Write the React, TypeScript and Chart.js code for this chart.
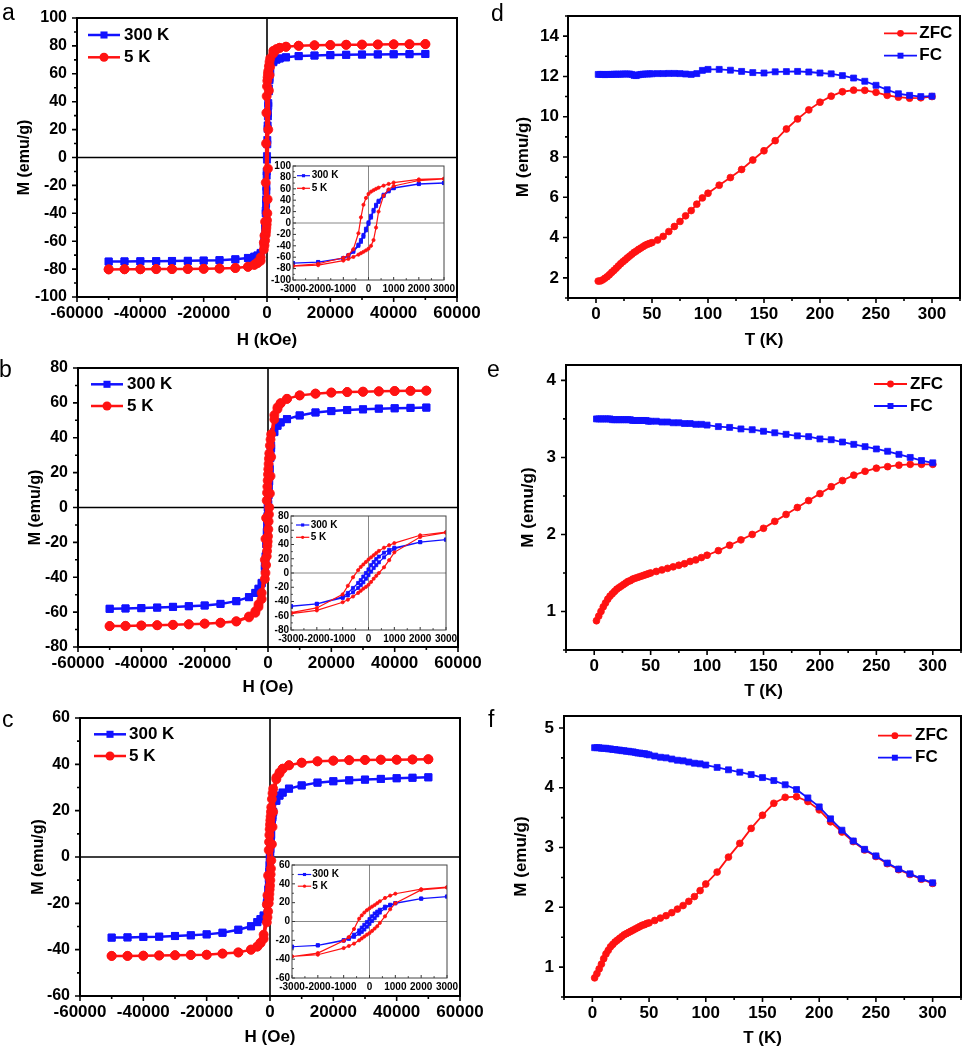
import React, { useEffect, useRef } from 'react';
import { Chart, registerables } from 'chart.js';
Chart.register(...registerables);

// ---------------- DATA ----------------
// Field sweep (Oe): descending branch and ascending branch
const H_DESC = [50000, 45000, 40000, 35000, 30000, 25000, 20000, 15000, 10000, 6000, 4000, 3000, 2000, 1000, 800, 600, 400, 300, 200, 100, 0, -100, -200, -300, -400, -600, -800, -1000, -2000, -3000, -4000, -6000, -10000, -15000, -20000, -25000, -30000, -35000, -40000, -45000, -50000];
const H_ASC = [-50000, -45000, -40000, -35000, -30000, -25000, -20000, -15000, -10000, -6000, -4000, -3000, -2000, -1000, -800, -600, -400, -300, -200, -100, 0, 100, 200, 300, 400, 600, 800, 1000, 2000, 3000, 4000, 6000, 10000, 15000, 20000, 25000, 30000, 35000, 40000, 45000, 50000];

// Panel a
const A_300K_DESC = [74.2, 74.1, 74.0, 73.9, 73.8, 73.6, 73.4, 73.1, 72.7, 71.8, 71.0, 70.3, 68.8, 61.5, 57.0, 49.5, 39.0, 32.0, 23.0, 12.5, 1.0, -10.0, -21.0, -30.0, -38.0, -48.5, -56.5, -61.5, -68.4, -70.2, -71.1, -72.0, -73.0, -73.6, -73.9, -74.1, -74.2, -74.3, -74.4, -74.5, -74.6];
const A_300K_ASC = [-74.6, -74.5, -74.4, -74.3, -74.2, -74.1, -73.9, -73.6, -73.0, -72.1, -71.2, -70.4, -68.8, -62.0, -57.8, -50.5, -40.0, -33.0, -24.0, -13.0, -1.5, 9.5, 20.5, 29.5, 37.0, 47.5, 55.5, 61.0, 68.3, 70.1, 71.0, 71.8, 72.7, 73.1, 73.4, 73.6, 73.8, 73.9, 74.0, 74.1, 74.2];
const A_5K_DESC = [81.3, 81.2, 81.1, 81.0, 80.9, 80.8, 80.6, 80.4, 80.1, 79.4, 78.6, 77.8, 76.5, 71.0, 68.5, 65.5, 62.0, 60.0, 57.5, 55.0, 51.0, 44.0, 32.0, 10.0, -18.0, -46.0, -56.0, -61.0, -71.5, -75.0, -76.8, -78.3, -79.2, -79.6, -79.8, -79.9, -80.0, -80.0, -80.1, -80.1, -80.2];
const A_5K_ASC = [-80.2, -80.1, -80.1, -80.0, -80.0, -79.9, -79.8, -79.6, -79.2, -78.4, -77.0, -75.8, -74.0, -66.0, -63.0, -59.5, -55.5, -53.0, -50.5, -48.0, -45.0, -40.0, -30.0, -8.0, 20.0, 48.0, 59.0, 65.0, 74.5, 77.3, 78.6, 79.4, 80.1, 80.4, 80.6, 80.8, 80.9, 81.0, 81.1, 81.2, 81.3];

// Panel b
const B_300K_DESC = [57.3, 57.1, 56.9, 56.7, 56.3, 55.9, 55.3, 54.5, 52.8, 50.7, 48.8, 47.0, 43.5, 35.5, 32.5, 28.5, 23.0, 19.5, 15.5, 11.0, 5.0, 0.0, -5.0, -10.0, -14.0, -21.0, -28.0, -33.5, -43.2, -46.5, -49.0, -51.4, -53.7, -55.3, -56.2, -56.6, -57.0, -57.4, -57.7, -57.9, -58.1];
const B_300K_ASC = [-58.1, -57.9, -57.7, -57.4, -57.0, -56.6, -56.2, -55.3, -53.7, -51.4, -49.0, -46.8, -43.5, -35.0, -31.5, -27.0, -21.0, -17.0, -13.0, -8.0, -3.0, 2.0, 7.0, 11.0, 15.0, 22.0, 28.5, 34.0, 43.2, 46.8, 48.8, 50.7, 52.8, 54.5, 55.3, 55.9, 56.3, 56.7, 56.9, 57.1, 57.3];
const B_5K_DESC = [67.0, 66.9, 66.8, 66.6, 66.4, 66.2, 65.9, 65.3, 64.3, 62.3, 59.8, 57.5, 53.0, 42.0, 39.0, 35.5, 31.0, 28.0, 25.0, 22.0, 19.0, 15.5, 12.0, 8.5, 4.0, -6.0, -18.0, -30.0, -49.0, -55.5, -59.5, -62.5, -65.2, -66.1, -66.6, -67.0, -67.3, -67.5, -67.7, -67.9, -68.0];
const B_5K_ASC = [-68.0, -67.9, -67.7, -67.5, -67.3, -67.0, -66.6, -66.1, -65.4, -63.0, -60.4, -57.0, -52.5, -41.0, -37.5, -33.0, -28.0, -25.0, -22.0, -19.5, -16.5, -12.5, -8.0, -4.0, 0.0, 8.0, 18.0, 29.0, 50.5, 56.5, 59.8, 62.3, 64.3, 65.3, 65.9, 66.2, 66.4, 66.6, 66.8, 66.9, 67.0];

// Panel c
const C_300K_DESC = [34.4, 34.2, 34.0, 33.7, 33.4, 33.1, 32.7, 32.1, 30.9, 29.5, 27.8, 26.5, 24.4, 19.6, 17.8, 15.8, 12.5, 10.5, 8.5, 5.5, 2.5, -0.5, -3.5, -6.5, -9.5, -14.0, -17.5, -19.8, -25.2, -26.8, -28.1, -29.9, -31.4, -32.7, -33.4, -33.8, -34.1, -34.4, -34.5, -34.7, -34.8];
const C_300K_ASC = [-34.8, -34.7, -34.5, -34.4, -34.1, -33.8, -33.4, -32.7, -31.4, -29.9, -28.1, -26.8, -25.4, -20.3, -18.5, -16.3, -13.0, -11.0, -8.5, -5.5, -2.5, 0.5, 3.5, 6.5, 9.5, 14.0, 17.0, 19.3, 24.2, 26.5, 27.8, 29.5, 30.9, 32.1, 32.7, 33.1, 33.4, 33.7, 34.0, 34.2, 34.4];
const C_5K_DESC = [42.2, 42.1, 42.0, 42.0, 41.9, 41.8, 41.6, 41.3, 40.7, 39.6, 38.1, 36.5, 34.3, 29.5, 27.5, 25.0, 21.5, 19.5, 17.5, 15.8, 14.0, 12.0, 9.5, 6.5, 3.0, -8.0, -16.5, -20.5, -33.5, -37.2, -38.7, -40.0, -41.2, -41.7, -42.2, -42.3, -42.4, -42.5, -42.6, -42.7, -42.7];
const C_5K_ASC = [-42.7, -42.7, -42.6, -42.5, -42.4, -42.3, -42.2, -41.7, -41.2, -40.0, -38.6, -37.0, -35.3, -28.2, -26.0, -23.5, -20.0, -18.0, -16.0, -14.0, -12.3, -10.0, -7.5, -5.0, -1.5, 5.5, 13.0, 19.5, 33.5, 36.0, 38.1, 39.6, 40.7, 41.3, 41.6, 41.8, 41.9, 42.0, 42.0, 42.1, 42.2];

// Temperatures (K) for ZFC / FC
const T_K = [2, 4, 6, 8, 10, 12, 14, 16, 18, 20, 22, 24, 26, 28, 30, 32, 34, 36, 38, 40, 42, 44, 46, 48, 50, 55, 60, 65, 70, 75, 80, 85, 90, 95, 100, 110, 120, 130, 140, 150, 160, 170, 180, 190, 200, 210, 220, 230, 240, 250, 260, 270, 280, 290, 300];

const D_ZFC = [1.84, 1.85, 1.90, 1.98, 2.06, 2.16, 2.27, 2.37, 2.48, 2.59, 2.70, 2.80, 2.89, 2.99, 3.08, 3.17, 3.26, 3.33, 3.41, 3.48, 3.55, 3.62, 3.67, 3.71, 3.75, 3.88, 4.06, 4.30, 4.55, 4.80, 5.08, 5.34, 5.66, 5.97, 6.20, 6.60, 6.98, 7.38, 7.85, 8.31, 8.81, 9.39, 9.89, 10.34, 10.72, 11.02, 11.24, 11.32, 11.31, 11.21, 11.06, 10.97, 10.92, 10.94, 11.00];
const D_FC = [12.10, 12.10, 12.10, 12.09, 12.10, 12.10, 12.10, 12.11, 12.11, 12.11, 12.11, 12.12, 12.12, 12.12, 12.12, 12.10, 12.05, 12.04, 12.08, 12.10, 12.11, 12.12, 12.12, 12.13, 12.13, 12.14, 12.14, 12.15, 12.15, 12.14, 12.12, 12.10, 12.14, 12.30, 12.35, 12.35, 12.31, 12.25, 12.19, 12.17, 12.23, 12.24, 12.25, 12.22, 12.17, 12.13, 12.04, 11.92, 11.76, 11.56, 11.34, 11.14, 11.06, 11.00, 11.02];

const E_ZFC = [0.88, 0.94, 1.00, 1.06, 1.11, 1.16, 1.20, 1.23, 1.26, 1.29, 1.31, 1.33, 1.35, 1.37, 1.39, 1.40, 1.42, 1.43, 1.44, 1.45, 1.46, 1.47, 1.48, 1.49, 1.50, 1.52, 1.54, 1.56, 1.58, 1.60, 1.62, 1.65, 1.67, 1.70, 1.73, 1.79, 1.86, 1.93, 2.00, 2.08, 2.17, 2.26, 2.35, 2.44, 2.53, 2.62, 2.70, 2.77, 2.82, 2.86, 2.88, 2.90, 2.91, 2.91, 2.91];
const E_FC = [3.50, 3.50, 3.50, 3.50, 3.50, 3.50, 3.50, 3.49, 3.49, 3.49, 3.49, 3.49, 3.49, 3.49, 3.49, 3.49, 3.48, 3.48, 3.48, 3.48, 3.48, 3.48, 3.48, 3.47, 3.47, 3.47, 3.46, 3.46, 3.45, 3.45, 3.44, 3.44, 3.43, 3.43, 3.42, 3.40, 3.39, 3.37, 3.36, 3.34, 3.32, 3.30, 3.28, 3.27, 3.24, 3.23, 3.20, 3.17, 3.14, 3.11, 3.08, 3.04, 3.00, 2.96, 2.93];

const F_ZFC = [0.82, 0.89, 0.97, 1.05, 1.14, 1.22, 1.28, 1.34, 1.38, 1.42, 1.45, 1.48, 1.51, 1.54, 1.56, 1.58, 1.60, 1.62, 1.64, 1.66, 1.68, 1.70, 1.71, 1.73, 1.74, 1.78, 1.82, 1.86, 1.91, 1.97, 2.03, 2.10, 2.18, 2.28, 2.39, 2.59, 2.84, 3.07, 3.32, 3.54, 3.74, 3.84, 3.85, 3.77, 3.63, 3.43, 3.26, 3.10, 2.96, 2.85, 2.73, 2.63, 2.55, 2.47, 2.40];
const F_FC = [4.67, 4.67, 4.67, 4.66, 4.66, 4.66, 4.65, 4.65, 4.64, 4.64, 4.63, 4.63, 4.62, 4.62, 4.61, 4.61, 4.60, 4.60, 4.59, 4.58, 4.58, 4.57, 4.57, 4.56, 4.55, 4.53, 4.51, 4.50, 4.48, 4.46, 4.45, 4.43, 4.41, 4.40, 4.38, 4.34, 4.30, 4.26, 4.22, 4.17, 4.12, 4.05, 3.97, 3.83, 3.68, 3.48, 3.29, 3.11, 2.97, 2.86, 2.74, 2.64, 2.56, 2.48, 2.41];

// Tick values
const H_TICKS = [-60000, -40000, -20000, 0, 20000, 40000, 60000];
const A_M_TICKS = [-100, -80, -60, -40, -20, 0, 20, 40, 60, 80, 100];
const B_M_TICKS = [-80, -60, -40, -20, 0, 20, 40, 60, 80];
const C_M_TICKS = [-60, -40, -20, 0, 20, 40, 60];
const INSET_H_TICKS = [-3000, -2000, -1000, 0, 1000, 2000, 3000];
const T_TICKS = [0, 50, 100, 150, 200, 250, 300];
const D_M_TICKS = [2, 4, 6, 8, 10, 12, 14];
const E_M_TICKS = [1, 2, 3, 4];
const F_M_TICKS = [1, 2, 3, 4, 5];

// Labels
const LBL_300K = '300 K';
const LBL_5K = '5 K';
const LBL_ZFC = 'ZFC';
const LBL_FC = 'FC';

// ---------------- STYLE ----------------
const FONT = '"Liberation Sans", Arial, Helvetica, sans-serif';
const BLUE = '#1212ff';
const RED = '#ff1212';

type Item = { label: string; color: string; style: 'rect' | 'circle'; radius: number; lw: number };
type Axis = { min: number; max: number; ticks: number[]; minor: number; font: number; pad: number; title?: string; titleFont?: number; titleCenter?: number };
type Spec = {
  plot: [number, number, number, number];
  margin: [number, number, number, number];
  x: Axis; y: Axis;
  datasets: any[];
  legend: { dx: number; dy: number; gap: number; len: number; textDx: number; font: number; items: Item[] };
  zero: { color: string; width: number } | null;
  frame: { color: string; width: number };
  tick: { major: number; minor: number; width: number; dir: 'out' | 'in'; color: string };
  bg?: string;
};

function loopPoints(hd: number[], md: number[], ha: number[], ma: number[]) {
  return hd.map((h, i) => ({ x: h, y: md[i] })).concat(ha.map((h, i) => ({ x: h, y: ma[i] })));
}
function tPoints(t: number[], m: number[]) {
  return t.map((v, i) => ({ x: v, y: m[i] }));
}
function ds(label: string, data: any[], color: string, style: 'rect' | 'circle', r: number, lw: number) {
  return {
    label, data, borderColor: color, backgroundColor: color, pointBackgroundColor: color,
    pointBorderColor: color, pointStyle: style, pointRadius: r, pointBorderWidth: 0.8,
    borderWidth: lw, showLine: true, tension: 0, fill: false,
  };
}

function drawMarker(ctx: CanvasRenderingContext2D, style: string, x: number, y: number, r: number) {
  ctx.beginPath();
  if (style === 'rect') {
    const s = r * Math.SQRT1_2;
    ctx.rect(x - s, y - s, 2 * s, 2 * s);
  } else {
    ctx.arc(x, y, r, 0, Math.PI * 2);
  }
  ctx.fill();
}

function decor(s: Spec) {
  const near = (arr: number[], v: number) => arr.some((t) => Math.abs(t - v) < 1e-9);
  return {
    id: 'decor',
    beforeDraw(chart: any) {
      if (!s.bg) return;
      const { ctx, chartArea: a } = chart;
      ctx.save();
      ctx.fillStyle = s.bg;
      ctx.fillRect(a.left, a.top, a.right - a.left, a.bottom - a.top);
      ctx.restore();
    },
    beforeDatasetsDraw(chart: any) {
      if (!s.zero) return;
      const { ctx, chartArea: a, scales } = chart;
      const x0 = scales.x.getPixelForValue(0);
      const y0 = scales.y.getPixelForValue(0);
      ctx.save();
      ctx.strokeStyle = s.zero.color;
      ctx.lineWidth = s.zero.width;
      ctx.beginPath();
      ctx.moveTo(x0, a.top); ctx.lineTo(x0, a.bottom);
      ctx.moveTo(a.left, y0); ctx.lineTo(a.right, y0);
      ctx.stroke();
      ctx.restore();
    },
    afterDatasetsDraw(chart: any) {
      const { ctx, chartArea: a, scales } = chart;
      const xs = scales.x, ys = scales.y;
      const dir = s.tick.dir === 'out' ? 1 : -1;
      ctx.save();
      ctx.strokeStyle = s.tick.color;
      ctx.lineWidth = s.tick.width;
      ctx.beginPath();
      const xTick = (v: number, len: number) => {
        const p = xs.getPixelForValue(v);
        ctx.moveTo(p, a.bottom); ctx.lineTo(p, a.bottom + dir * len);
      };
      const yTick = (v: number, len: number) => {
        const p = ys.getPixelForValue(v);
        ctx.moveTo(a.left, p); ctx.lineTo(a.left - dir * len, p);
      };
      s.x.ticks.forEach((v) => xTick(v, s.tick.major));
      for (let k = Math.ceil(s.x.min / s.x.minor); k * s.x.minor <= s.x.max + 1e-9; k++) {
        const v = k * s.x.minor;
        if (!near(s.x.ticks, v)) xTick(v, s.tick.minor);
      }
      s.y.ticks.forEach((v) => yTick(v, s.tick.major));
      for (let k = Math.ceil(s.y.min / s.y.minor - 1e-9); k * s.y.minor <= s.y.max + 1e-9; k++) {
        const v = k * s.y.minor;
        if (!near(s.y.ticks, v)) yTick(v, s.tick.minor);
      }
      ctx.stroke();
      ctx.strokeStyle = s.frame.color;
      ctx.lineWidth = s.frame.width;
      ctx.strokeRect(a.left, a.top, a.right - a.left, a.bottom - a.top);
      ctx.restore();
    },
    afterDraw(chart: any) {
      const { ctx, chartArea: a } = chart;
      const lg = s.legend;
      ctx.save();
      lg.items.forEach((it, i) => {
        const y = a.top + lg.dy + i * lg.gap;
        const x1 = a.left + lg.dx;
        ctx.strokeStyle = it.color;
        ctx.lineWidth = it.lw;
        ctx.beginPath();
        ctx.moveTo(x1, y); ctx.lineTo(x1 + lg.len, y);
        ctx.stroke();
        ctx.fillStyle = it.color;
        drawMarker(ctx, it.style, x1 + lg.len / 2, y, it.radius);
        ctx.fillStyle = '#000';
        ctx.font = `bold ${lg.font}px ${FONT}`;
        ctx.textBaseline = 'middle';
        ctx.textAlign = 'left';
        ctx.fillText(it.label, a.left + lg.textDx, y);
      });
      ctx.restore();
    },
  };
}

function axisOpts(ax: Axis, horizontal: boolean, s: Spec) {
  const [L, T, R, B] = s.plot;
  const [ml, mt, mr, mb] = s.margin;
  const tf = ax.titleFont || 16;
  const lh = tf * 1.2;
  let title: any = { display: false };
  if (ax.title) {
    const pad = horizontal ? (B + mb) - (ax.titleCenter as number) - lh / 2 : (ax.titleCenter as number) - (L - ml) - lh / 2;
    title = {
      display: true, text: ax.title, color: '#000',
      font: { family: FONT, size: tf, weight: 'bold' },
      padding: horizontal ? { top: 0, bottom: pad } : { top: pad, bottom: 0 },
    };
  }
  return {
    type: 'linear',
    position: horizontal ? 'bottom' : 'left',
    min: ax.min, max: ax.max,
    afterBuildTicks: (sc: any) => { sc.ticks = ax.ticks.map((v) => ({ value: v })); },
    afterFit: (sc: any) => {
      if (horizontal) { sc.height = mb; sc.paddingLeft = 0; sc.paddingRight = 0; }
      else { sc.width = ml; sc.paddingTop = 0; sc.paddingBottom = 0; }
    },
    grid: { display: false, drawTicks: false },
    border: { display: false },
    ticks: {
      autoSkip: false, maxRotation: 0, minRotation: 0, padding: ax.pad, color: '#000',
      font: { family: FONT, size: ax.font, weight: 'bold' },
      callback: (v: any) => String(v),
    },
    title,
  };
}

function buildConfig(s: Spec): any {
  const mt = s.margin[1], mr = s.margin[2];
  return {
    type: 'scatter',
    data: { datasets: s.datasets },
    options: {
      responsive: false, animation: false, events: [], devicePixelRatio: 1,
      layout: { padding: { left: 0, top: mt, right: mr, bottom: 0 } },
      plugins: { legend: { display: false }, tooltip: { enabled: false } },
      scales: { x: axisOpts(s.x, true, s), y: axisOpts(s.y, false, s) },
    },
    plugins: [decor(s)],
  };
}

function Panel({ spec }: { spec: Spec }) {
  const ref = useRef<HTMLCanvasElement>(null);
  const [L, T, R, B] = spec.plot;
  const [ml, mt, mr, mb] = spec.margin;
  const W = R - L + ml + mr;
  const H = B - T + mt + mb;
  useEffect(() => {
    const chart = new Chart(ref.current as HTMLCanvasElement, buildConfig(spec));
    return () => chart.destroy();
  }, []);
  return <canvas ref={ref} width={W} height={H} style={{ position: 'absolute', left: L - ml, top: T - mt, width: W, height: H }} />;
}

// ---------------- SPECS ----------------
const MAIN_TICK = { major: 5, minor: 3, width: 1.6, dir: 'out' as const, color: '#000' };
const INSET_TICK = { major: 3, minor: 1.8, width: 1, dir: 'in' as const, color: '#333' };
const MAIN_FRAME = { color: '#000', width: 2 };
const INSET_FRAME = { color: '#444', width: 1 };

const hystMainSets = (b5: any[], b300: any[]) => [
  ds(LBL_5K, b5, RED, 'circle', 4.5, 2.5),
  ds(LBL_300K, b300, BLUE, 'rect', 5, 2.5),
];
const hystInsetSets = (b5: any[], b300: any[]) => [
  ds(LBL_5K, b5, RED, 'circle', 1.6, 1.2),
  ds(LBL_300K, b300, BLUE, 'rect', 2.2, 1.2),
];
const mainHystItems: Item[] = [
  { label: LBL_300K, color: BLUE, style: 'rect', radius: 5, lw: 2.5 },
  { label: LBL_5K, color: RED, style: 'circle', radius: 4.5, lw: 2.5 },
];
const insetHystItems: Item[] = [
  { label: LBL_300K, color: BLUE, style: 'rect', radius: 2.2, lw: 1.2 },
  { label: LBL_5K, color: RED, style: 'circle', radius: 1.6, lw: 1.2 },
];
const zfcItems: Item[] = [
  { label: LBL_ZFC, color: RED, style: 'circle', radius: 3.4, lw: 1.8 },
  { label: LBL_FC, color: BLUE, style: 'rect', radius: 4.2, lw: 1.8 },
];
const zfcSets = (zfc: number[], fc: number[]) => [
  ds(LBL_FC, tPoints(T_K, fc), BLUE, 'rect', 4.2, 1.8),
  ds(LBL_ZFC, tPoints(T_K, zfc), RED, 'circle', 3.4, 1.8),
];

const A_5K = loopPoints(H_DESC, A_5K_DESC, H_ASC, A_5K_ASC);
const A_300K = loopPoints(H_DESC, A_300K_DESC, H_ASC, A_300K_ASC);
const B_5K = loopPoints(H_DESC, B_5K_DESC, H_ASC, B_5K_ASC);
const B_300K = loopPoints(H_DESC, B_300K_DESC, H_ASC, B_300K_ASC);
const C_5K = loopPoints(H_DESC, C_5K_DESC, H_ASC, C_5K_ASC);
const C_300K = loopPoints(H_DESC, C_300K_DESC, H_ASC, C_300K_ASC);

const hx = (title: string, center: number): Axis => ({ min: -60000, max: 60000, ticks: H_TICKS, minor: 10000, font: 17, pad: 6.5, title, titleFont: 17, titleCenter: center });
const hy = (lim: number, ticks: number[], center: number): Axis => ({ min: -lim, max: lim, ticks, minor: 10, font: 16, pad: 10, title: 'M (emu/g)', titleFont: 16, titleCenter: center });
const ix: Axis = { min: -3000, max: 3000, ticks: INSET_H_TICKS, minor: 500, font: 10, pad: 3 };
const iy = (lim: number, ticks: number[]): Axis => ({ min: -lim, max: lim, ticks, minor: 10, font: 10, pad: 2 });
const tx = (center: number): Axis => ({ min: -25, max: 325, ticks: T_TICKS, minor: 25, font: 17, pad: 6.5, title: 'T (K)', titleFont: 17, titleCenter: center });
const ty = (min: number, max: number, ticks: number[], minor: number, center: number, pad: number): Axis => ({ min, max, ticks, minor, font: 17, pad, title: 'M (emu/g)', titleFont: 17, titleCenter: center });

const SPECS: Spec[] = [
  {
    plot: [77, 18, 457, 297], margin: [77, 18, 28, 56],
    x: hx('H (kOe)', 340), y: hy(100, A_M_TICKS, 25),
    datasets: hystMainSets(A_5K, A_300K),
    legend: { dx: 11, dy: 17, gap: 22.3, len: 32, textDx: 47, font: 17, items: mainHystItems },
    zero: { color: '#000', width: 1.6 }, frame: MAIN_FRAME, tick: MAIN_TICK,
  },
  {
    plot: [78, 368, 458, 647], margin: [78, 28, 28, 56],
    x: hx('H (Oe)', 687), y: hy(80, B_M_TICKS, 35.8),
    datasets: hystMainSets(B_5K, B_300K),
    legend: { dx: 13, dy: 16.3, gap: 21.7, len: 32, textDx: 49, font: 17, items: mainHystItems },
    zero: { color: '#000', width: 1.6 }, frame: MAIN_FRAME, tick: MAIN_TICK,
  },
  {
    plot: [80, 718, 460, 996], margin: [80, 28, 26, 52],
    x: hx('H (Oe)', 1037), y: hy(60, C_M_TICKS, 38.3),
    datasets: hystMainSets(C_5K, C_300K),
    legend: { dx: 14, dy: 16.3, gap: 21.7, len: 32, textDx: 49, font: 17, items: mainHystItems },
    zero: { color: '#000', width: 1.6 }, frame: MAIN_FRAME, tick: MAIN_TICK,
  },
  {
    plot: [568, 16, 960, 298], margin: [88, 16, 5, 56],
    x: tx(340.5), y: ty(1, 15, D_M_TICKS, 1, 523.3, 9),
    datasets: zfcSets(D_ZFC, D_FC),
    legend: { dx: 316, dy: 17.3, gap: 22.4, len: 33, textDx: 351.3, font: 17, items: zfcItems },
    zero: null, frame: MAIN_FRAME, tick: MAIN_TICK,
  },
  {
    plot: [566, 365, 961, 650], margin: [86, 25, 5, 50],
    x: tx(691), y: ty(0.5, 4.2, E_M_TICKS, 0.5, 528, 10),
    datasets: zfcSets(E_ZFC, E_FC),
    legend: { dx: 308, dy: 19, gap: 22, len: 33, textDx: 344, font: 17, items: zfcItems },
    zero: null, frame: MAIN_FRAME, tick: MAIN_TICK,
  },
  {
    plot: [564, 716, 962, 997], margin: [84, 26, 4, 51],
    x: tx(1038.5), y: ty(0.5, 5.2, F_M_TICKS, 0.5, 521.7, 10),
    datasets: zfcSets(F_ZFC, F_FC),
    legend: { dx: 314, dy: 19.7, gap: 22, len: 33.7, textDx: 351, font: 17, items: zfcItems },
    zero: null, frame: MAIN_FRAME, tick: MAIN_TICK,
  },
  {
    plot: [293, 166, 444, 280], margin: [26, 8, 14, 16],
    x: ix, y: iy(100, A_M_TICKS),
    datasets: hystInsetSets(A_5K, A_300K),
    legend: { dx: 4, dy: 9.7, gap: 12.6, len: 13, textDx: 18.7, font: 10, items: insetHystItems },
    zero: { color: '#888', width: 1 }, frame: INSET_FRAME, tick: INSET_TICK, bg: '#fff',
  },
  {
    plot: [291, 516, 446, 630], margin: [26, 8, 14, 16],
    x: ix, y: iy(80, B_M_TICKS),
    datasets: hystInsetSets(B_5K, B_300K),
    legend: { dx: 5, dy: 9, gap: 12.3, len: 13.3, textDx: 19.7, font: 10, items: insetHystItems },
    zero: { color: '#888', width: 1 }, frame: INSET_FRAME, tick: INSET_TICK, bg: '#fff',
  },
  {
    plot: [292, 865, 447, 978], margin: [26, 8, 14, 16],
    x: ix, y: iy(60, C_M_TICKS),
    datasets: hystInsetSets(C_5K, C_300K),
    legend: { dx: 5.8, dy: 9.5, gap: 11.7, len: 13.4, textDx: 20.2, font: 10, items: insetHystItems },
    zero: { color: '#888', width: 1 }, frame: INSET_FRAME, tick: INSET_TICK, bg: '#fff',
  },
];

const LETTERS = [
  { t: 'a', x: 2, baseline: 20 },
  { t: 'd', x: 491, baseline: 21 },
  { t: 'b', x: -1, baseline: 377 },
  { t: 'e', x: 487, baseline: 377 },
  { t: 'c', x: 2, baseline: 727 },
  { t: 'f', x: 488, baseline: 727 },
];

export default function App() {
  return (
    <div style={{ position: 'absolute', left: 0, top: 0, width: 966, height: 1050, overflow: 'hidden', background: '#fff' }}>
      {SPECS.map((s, i) => <Panel key={i} spec={s} />)}
      {LETTERS.map((l) => (
        <div key={l.t} style={{ position: 'absolute', left: l.x, top: l.baseline - 19.5, fontFamily: FONT, fontSize: 23, lineHeight: '23px', color: '#000' }}>{l.t}</div>
      ))}
    </div>
  );
}
